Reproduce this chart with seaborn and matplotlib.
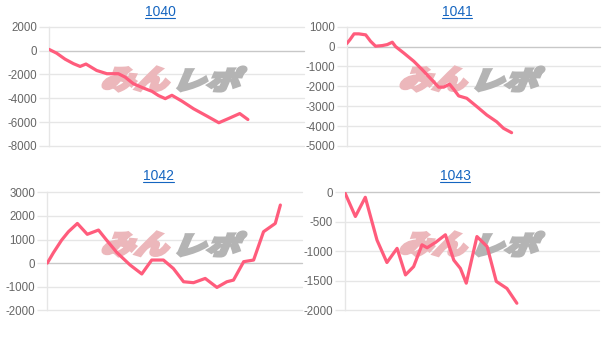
import numpy as np
import pandas as pd
import matplotlib
matplotlib.use("Agg")
import matplotlib.pyplot as plt
import seaborn as sns
from matplotlib.textpath import TextPath
from matplotlib.font_manager import FontProperties
from matplotlib.patches import PathPatch
from matplotlib.transforms import Affine2D
from matplotlib.lines import Line2D

# ---------------- data ----------------
titles = ["1040", "1041", "1042", "1043"]

x_1040 = [0, 3.0, 6.3, 9.6, 12.2, 14.5, 18.7, 22.7, 27.2, 29.8, 33.1, 37.0, 40.4,
          43.0, 45.6, 48.2, 52.2, 56.7, 62.0, 66.6, 70.5, 74.8, 78.0]
y_1040 = [100, -220, -720, -1100, -1330, -1130, -1670, -1940, -1940, -2220, -2780,
          -3140, -3420, -3780, -4030, -3750, -4250, -4880, -5500, -6050, -5690,
          -5280, -5780]

x_1041 = [0, 1.3, 2.9, 4.8, 7.5, 9.4, 11.4, 14.0, 16.0, 18.0, 19.3, 22.5, 26.5,
          29.8, 33.0, 36.3, 38.3, 40.6, 42.2, 44.2, 47.4, 51.4, 55.3, 59.2, 61.9,
          65.1]
y_1041 = [150, 350, 640, 640, 590, 270, 20, 50, 100, 220, 0, -320, -740, -1160,
          -1590, -2040, -2040, -1890, -2140, -2480, -2600, -3020, -3440, -3780,
          -4110, -4330]

x_1042 = [0, 2.4, 5.6, 8.3, 11.8, 15.7, 20.1, 23.3, 27.3, 32.5, 37.1, 41.0, 45.6,
          49.5, 53.5, 57.4, 62.0, 66.6, 70.5, 73.1, 77.1, 81.0, 84.9, 89.5, 91.5]
y_1042 = [0, 440, 970, 1330, 1680, 1220, 1400, 970, 450, -80, -460, 130, 130,
          -230, -790, -830, -650, -1030, -790, -720, 60, 130, 1330, 1680, 2460]

x_1043 = [0, 4.2, 8.1, 12.7, 16.6, 20.6, 23.9, 27.1, 30.4, 32.4, 35.7, 39.6, 42.9,
          45.5, 47.8, 52.0, 56.0, 59.6, 63.8, 67.7]
y_1043 = [0, -410, -85, -810, -1190, -950, -1400, -1260, -890, -940, -850, -720,
          -1150, -1290, -1540, -750, -920, -1510, -1630, -1880]

y_ticks = [
    [2000, 0, -2000, -4000, -6000, -8000],
    [1000, 0, -1000, -2000, -3000, -4000, -5000],
    [3000, 2000, 1000, 0, -1000, -2000],
    [0, -500, -1000, -1500, -2000],
]

series = [(x_1040, y_1040), (x_1041, y_1041), (x_1042, y_1042), (x_1043, y_1043)]

# ---------------- styling ----------------
W, H = 614, 341
LINE_COLOR = "#ff5c7c"
GRID_COLOR = "#e6e6e6"
ZERO_COLOR = "#c8c8c8"
TICK_TEXT = "#666666"
TITLE_COLOR = "#1565c0"

sns.set_theme(style="white")
plt.rcParams["font.family"] = ["Liberation Sans", "DejaVu Sans"]

fig = plt.figure(figsize=(W / 100, H / 100), dpi=100)
fig.patch.set_facecolor("white")

# panel rectangles in pixels: left, right, top, bottom (top-origin)
rects = [
    (49.0, 304.0, 26.7, 146.0),
    (346.7, 600.0, 26.7, 146.0),
    (47.3, 302.0, 192.3, 310.3),
    (344.7, 599.0, 192.3, 310.3),
]
title_pos = [(160, 11.5), (457, 11.5), (158, 176.0), (455, 176.0)]
wm_boxes = [(102, 66), (400, 66), (102, 231), (400, 231)]

pix2fig = Affine2D().scale(1.0 / W, 1.0 / H) + fig.transFigure
wm_font = FontProperties(family="Noto Sans CJK JP", weight="black")


def watermark(ax, left, top):
    parts = [("みん", "#ecb7bb", left + 1, left + 67),
             ("レポ", "#b4b4b4", left + 76, left + 144)]
    for txt, col, x0, x1 in parts:
        tp = TextPath((0, 0), txt, size=1, prop=wm_font)
        sk = Affine2D().skew_deg(18, 0)
        p = sk.transform_path(tp)
        ex = p.get_extents()
        y0_disp = H - (top + 25)
        tr = (Affine2D()
              .translate(-ex.x0, -ex.y0)
              .scale((x1 - x0) / ex.width, 24 / ex.height)
              .translate(x0, y0_disp))
        p2 = tr.transform_path(p)
        patch = PathPatch(p2, facecolor=col, edgecolor=col, linewidth=2.2,
                          joinstyle="miter", transform=pix2fig, zorder=1.5)
        ax.add_artist(patch)


axes = []
for i, ((l, r, t, b), (xs, ys)) in enumerate(zip(rects, series)):
    ax = fig.add_axes([l / W, (H - b) / H, (r - l) / W, (b - t) / H])
    ax.set_facecolor("none")
    df = pd.DataFrame({"x": xs, "y": ys})
    sns.lineplot(data=df, x="x", y="y", ax=ax, color=LINE_COLOR, linewidth=2.3,
                 zorder=3, estimator=None, sort=False)
    yt = y_ticks[i]
    ax.set_xlim(0, 100)
    ax.set_ylim(min(yt), max(yt))
    ax.set_yticks(yt)
    ax.set_yticklabels([str(v) for v in yt], color=TICK_TEXT, fontsize=8.3)
    ax.set_xticks([])
    ax.set_xlabel("")
    ax.set_ylabel("")
    for v in yt:
        ax.axhline(v, color=ZERO_COLOR if v == 0 else GRID_COLOR, linewidth=1.0,
                   zorder=0.5, clip_on=False)
    for s in ["top", "right", "bottom"]:
        ax.spines[s].set_visible(False)
    ax.spines["left"].set_color(GRID_COLOR)
    ax.spines["left"].set_linewidth(1.0)
    ax.tick_params(axis="y", length=7, width=1.0, color=GRID_COLOR, pad=1.5,
                   left=True)
    watermark(ax, *wm_boxes[i])
    axes.append(ax)

# titles (blue, underlined like links)
title_texts = []
for (tx, ty), name in zip(title_pos, titles):
    t = fig.text(tx / W, 1 - ty / H, name, ha="center", va="center",
                 color=TITLE_COLOR, fontsize=10)
    title_texts.append(t)

fig.canvas.draw()
renderer = fig.canvas.get_renderer()
for t in title_texts:
    bb = t.get_window_extent(renderer)
    yl = bb.y0 + 1.0
    fig.add_artist(Line2D([bb.x0 / W, bb.x1 / W], [yl / H, yl / H],
                          transform=fig.transFigure, color=TITLE_COLOR,
                          linewidth=0.8))

fig.savefig("out.png", dpi=100, facecolor="white")
